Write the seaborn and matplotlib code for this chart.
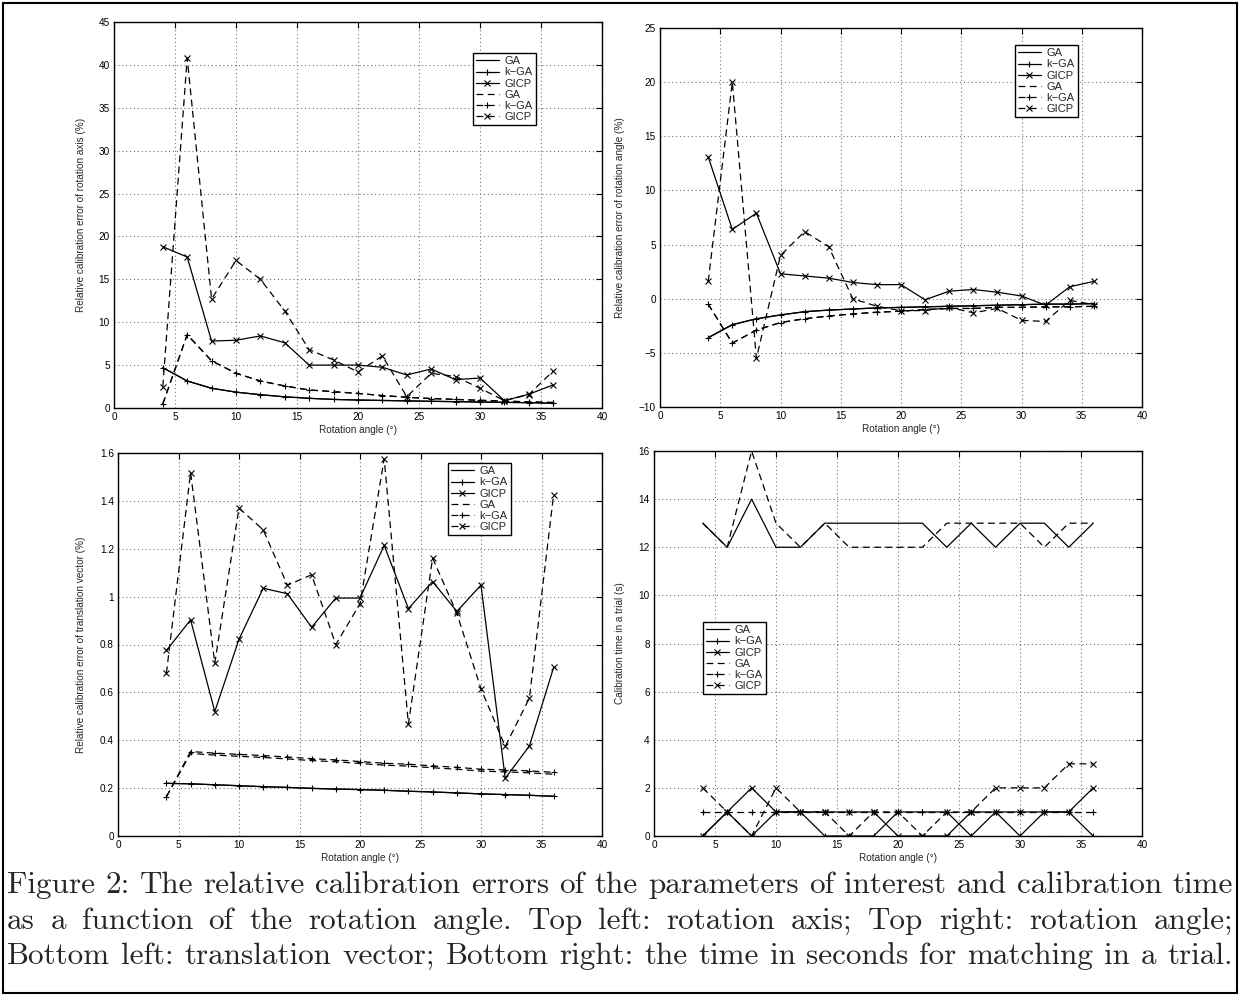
import matplotlib
matplotlib.use("Agg")
import matplotlib.pyplot as plt
import seaborn as sns
from matplotlib.patches import Rectangle

# ---------------- data ----------------
angles = [4, 6, 8, 10, 12, 14, 16, 18, 20, 22, 24, 26, 28, 30, 32, 34, 36]
x_ticks = [0, 5, 10, 15, 20, 25, 30, 35, 40]
legend_labels = ["GA", "k\u2212GA", "GICP", "GA", "k\u2212GA", "GICP"]

# top left: rotation axis error (%)
axis_ga_solid = [4.7, 3.15, 2.3, 1.85, 1.55, 1.3, 1.13, 1.0, 0.93, 0.88, 0.83, 0.78, 0.74, 0.7, 0.66, 0.62, 0.55]
axis_kga_solid = [4.7, 3.15, 2.3, 1.85, 1.55, 1.3, 1.13, 1.0, 0.93, 0.88, 0.83, 0.78, 0.74, 0.7, 0.66, 0.62, 0.55]
axis_gicp_solid = [18.8, 17.6, 7.8, 7.9, 8.4, 7.6, 5.0, 5.0, 5.0, 4.75, 3.85, 4.55, 3.3, 3.5, 0.86, 1.6, 2.7]
axis_ga_dashed = [0.47, 8.55, 5.5, 4.05, 3.15, 2.57, 2.1, 1.9, 1.7, 1.45, 1.25, 1.1, 1.0, 0.9, 0.8, 0.72, 0.64]
axis_kga_dashed = [0.47, 8.55, 5.5, 4.05, 3.15, 2.57, 2.1, 1.9, 1.7, 1.45, 1.25, 1.1, 1.0, 0.9, 0.8, 0.72, 0.64]
axis_gicp_dashed = [2.5, 40.8, 12.7, 17.2, 15.0, 11.3, 6.8, 5.6, 4.2, 6.07, 1.32, 4.05, 3.66, 2.3, 0.86, 1.56, 4.32]
axis_yticks = [0, 5, 10, 15, 20, 25, 30, 35, 40, 45]
axis_ytick_labels = ["0", "5", "10", "15", "20", "25", "30", "35", "40", "45"]

# top right: rotation angle error (%)
angle_ga_solid = [-3.6, -2.4, -1.85, -1.5, -1.2, -1.05, -0.95, -0.85, -0.8, -0.75, -0.7, -0.65, -0.6, -0.55, -0.5, -0.5, -0.45]
angle_kga_solid = [-3.6, -2.4, -1.85, -1.5, -1.2, -1.05, -0.95, -0.85, -0.8, -0.75, -0.7, -0.65, -0.6, -0.55, -0.5, -0.5, -0.45]
angle_gicp_solid = [13.1, 6.4, 7.9, 2.3, 2.1, 1.9, 1.5, 1.3, 1.3, -0.1, 0.7, 0.85, 0.6, 0.25, -0.6, 1.1, 1.6]
angle_ga_dashed = [-0.5, -4.1, -2.9, -2.2, -1.85, -1.6, -1.4, -1.25, -1.15, -1.0, -0.9, -0.9, -0.8, -0.8, -0.75, -0.75, -0.7]
angle_kga_dashed = [-0.5, -4.1, -2.9, -2.2, -1.85, -1.6, -1.4, -1.25, -1.15, -1.0, -0.9, -0.9, -0.8, -0.8, -0.75, -0.75, -0.7]
angle_gicp_dashed = [1.6, 20.0, -5.5, 4.0, 6.2, 4.8, 0.0, -0.7, -1.1, -1.1, -0.8, -1.3, -0.9, -2.0, -2.1, -0.15, -0.55]
angle_yticks = [-10, -5, 0, 5, 10, 15, 20, 25]
angle_ytick_labels = ["\u221210", "\u22125", "0", "5", "10", "15", "20", "25"]

# bottom left: translation vector error (%)
trans_ga_solid = [0.220, 0.218, 0.214, 0.210, 0.206, 0.203, 0.199, 0.196, 0.194, 0.191, 0.187, 0.184, 0.180, 0.176, 0.173, 0.170, 0.166]
trans_kga_solid = [0.220, 0.218, 0.214, 0.210, 0.206, 0.203, 0.199, 0.196, 0.194, 0.191, 0.187, 0.184, 0.180, 0.176, 0.173, 0.170, 0.166]
trans_gicp_solid = [0.775, 0.903, 0.52, 0.822, 1.035, 1.012, 0.872, 0.994, 0.994, 1.214, 0.95, 1.063, 0.938, 1.048, 0.241, 0.376, 0.704]
trans_ga_dashed = [0.164, 0.345, 0.338, 0.333, 0.328, 0.322, 0.315, 0.310, 0.303, 0.296, 0.292, 0.285, 0.279, 0.271, 0.268, 0.264, 0.258]
trans_kga_dashed = [0.164, 0.353, 0.346, 0.341, 0.336, 0.330, 0.323, 0.318, 0.311, 0.304, 0.300, 0.293, 0.287, 0.279, 0.276, 0.272, 0.266]
trans_gicp_dashed = [0.68, 1.518, 0.722, 1.370, 1.279, 1.048, 1.091, 0.80, 0.97, 1.576, 0.468, 1.161, 0.931, 0.615, 0.374, 0.576, 1.426]
trans_yticks = [0, 0.2, 0.4, 0.6, 0.8, 1.0, 1.2, 1.4, 1.6]
trans_ytick_labels = ["0", "0.2", "0.4", "0.6", "0.8", "1", "1.2", "1.4", "1.6"]

# bottom right: calibration time (s)
time_ga_solid = [13, 12, 14, 12, 12, 13, 13, 13, 13, 13, 12, 13, 12, 13, 13, 12, 13]
time_kga_solid = [0, 1, 0, 1, 1, 0, 0, 0, 1, 1, 1, 0, 1, 0, 1, 1, 0]
time_gicp_solid = [0, 1, 2, 1, 1, 1, 1, 1, 0, 0, 0, 1, 1, 1, 1, 1, 2]
time_ga_dashed = [13, 12, 16, 13, 12, 13, 12, 12, 12, 12, 13, 13, 13, 13, 12, 13, 13]
time_kga_dashed = [1, 1, 1, 1, 1, 1, 1, 1, 1, 1, 1, 1, 1, 1, 1, 1, 1]
time_gicp_dashed = [2, 1, 0, 2, 1, 1, 0, 1, 1, 0, 1, 1, 2, 2, 2, 3, 3]
time_yticks = [0, 2, 4, 6, 8, 10, 12, 14, 16]
time_ytick_labels = ["0", "2", "4", "6", "8", "10", "12", "14", "16"]

caption_lines = [
    "Figure 2: The relative calibration errors of the parameters of interest and calibration time",
    "as a function of the rotation angle.  Top left: rotation axis; Top right: rotation angle;",
    "Bottom left: translation vector; Bottom right: the time in seconds for matching in a trial.",
]

# ---------------- styling ----------------
sns.set_theme(style="white")
plt.rcParams["font.family"] = ["Liberation Sans", "DejaVu Sans"]
plt.rcParams["axes.unicode_minus"] = True

W, H = 1240, 996
fig = plt.figure(figsize=(W / 100, H / 100), dpi=100)
fig.patch.set_facecolor("white")

DASH = (0, (5.5, 3.5))
styles = [("-", None), ("-", "+"), ("-", "x"), (DASH, None), (DASH, "+"), (DASH, "x")]

panels = [
    dict(box=(114, 602, 22, 408), ylim=(0, 45), yt=axis_yticks, ytl=axis_ytick_labels,
         ylabel="Relative calibration error of rotation axis (%)", ylab_x=86,
         series=[axis_ga_solid, axis_kga_solid, axis_gicp_solid, axis_ga_dashed, axis_kga_dashed, axis_gicp_dashed],
         leg=(473, 53)),
    dict(box=(660, 1142, 28, 407), ylim=(-10, 25), yt=angle_yticks, ytl=angle_ytick_labels,
         ylabel="Relative calibration error of rotation angle (%)", ylab_x=625,
         series=[angle_ga_solid, angle_kga_solid, angle_gicp_solid, angle_ga_dashed, angle_kga_dashed, angle_gicp_dashed],
         leg=(1015, 45)),
    dict(box=(118, 602, 453, 836), ylim=(0, 1.6), yt=trans_yticks, ytl=trans_ytick_labels,
         ylabel="Relative calibration error of translation vector (%)", ylab_x=86,
         series=[trans_ga_solid, trans_kga_solid, trans_gicp_solid, trans_ga_dashed, trans_kga_dashed, trans_gicp_dashed],
         leg=(448, 463)),
    dict(box=(654, 1142, 451, 836), ylim=(0, 16), yt=time_yticks, ytl=time_ytick_labels,
         ylabel="Calibration time in a trial (s)", ylab_x=625,
         series=[time_ga_solid, time_kga_solid, time_gicp_solid, time_ga_dashed, time_kga_dashed, time_gicp_dashed],
         leg=(703, 622)),
]

for p in panels:
    l, r, t, b = p["box"]
    ax = fig.add_axes([l / W, 1 - b / H, (r - l) / W, (b - t) / H])
    for vals, (ls, mk), lab in zip(p["series"], styles, legend_labels):
        sns.lineplot(x=angles, y=vals, ax=ax, color="black", linewidth=0.9,
                     linestyle=ls, marker=mk, markersize=4.2, markeredgewidth=0.8,
                     markeredgecolor="black", label=lab, legend=False)
    ax.set_xlim(0, 40)
    ax.set_ylim(*p["ylim"])
    ax.set_xticks(x_ticks)
    ax.set_xticklabels([str(v) for v in x_ticks])
    ax.set_yticks(p["yt"])
    ax.set_yticklabels(p["ytl"])
    ax.grid(True, linestyle=(0, (1, 2.5)), color="0.45", linewidth=0.8)
    ax.tick_params(direction="in", top=True, right=True, length=4, width=0.8,
                   labelsize=7.2, pad=3, colors="black")
    for s in ax.spines.values():
        s.set_color("black")
        s.set_linewidth(1.0)
    ax.set_xlabel("Rotation angle (\u00b0)", fontsize=7.2)
    ax.xaxis.set_label_coords(0.5, -(17 / (b - t)))
    ax.set_ylabel(p["ylabel"], fontsize=7.2)
    ax.yaxis.set_label_coords((p["ylab_x"] - l) / (r - l), 0.5)
    handles, labels = ax.get_legend_handles_labels()
    lx, ly = p["leg"]
    leg = ax.legend(handles, labels, loc="upper left", bbox_to_anchor=(lx / W, 1 - ly / H),
                    bbox_transform=fig.transFigure, fontsize=8, frameon=True, fancybox=False,
                    edgecolor="black", framealpha=1, handlelength=2.0, handletextpad=0.5,
                    borderpad=0.3, labelspacing=0.1, borderaxespad=0)
    leg.get_frame().set_linewidth(1.0)

# ---------------- caption (justified) ----------------
fig.canvas.draw()
renderer = fig.canvas.get_renderer()
left_px, right_px = 7, 1233
baselines = [893, 929, 964]

# choose the font size so that the longest line fits with natural spacing
probe = fig.text(0, 0, caption_lines[0], fontsize=10, family="cmr10")
nat = max(fig.text(0, 0, ln, fontsize=10, family="cmr10").get_window_extent(renderer=renderer).width
          for ln in caption_lines)
for tt in list(fig.texts):
    tt.remove()
cap_fs = 10 * (right_px - left_px) / nat

for line, base in zip(caption_lines, baselines):
    words = line.split()
    texts, widths = [], []
    for w in words:
        t = fig.text(0, 1 - base / H, w, fontsize=cap_fs, family="cmr10", va="baseline", ha="left")
        texts.append(t)
        widths.append(t.get_window_extent(renderer=renderer).width)
    gap = (right_px - left_px - sum(widths)) / (len(words) - 1)
    x = left_px
    for t, wdt in zip(texts, widths):
        t.set_x(x / W)
        x += wdt + gap

fig.patches.append(Rectangle((3 / W, 3 / H), 1234 / W, 990 / H, transform=fig.transFigure,
                             fill=False, edgecolor="black", linewidth=1.5))

fig.savefig("out.png", dpi=100, facecolor="white")
